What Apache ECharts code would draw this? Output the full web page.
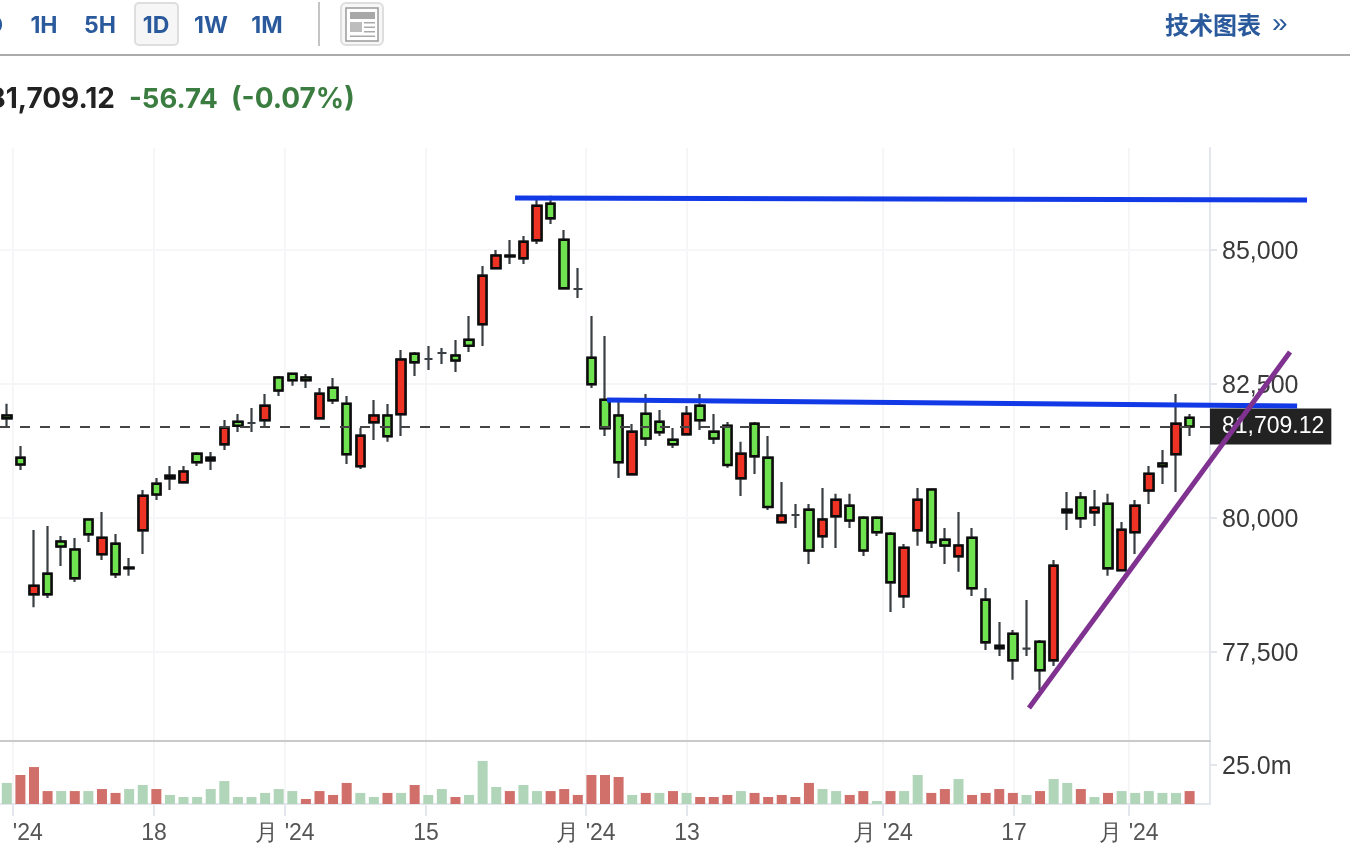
<!DOCTYPE html>
<html>
<head>
<meta charset="utf-8">
<style>html,body{margin:0;padding:0;background:#fff}#c{width:1350px;height:850px}</style>
<script src="https://cdn.jsdelivr.net/npm/echarts@6/dist/echarts.min.js"></script>
</head>
<body>
<div id="c"></div>
<script>
const opens = [81910,81125,78575,78960,79560,79410,79970,79325,79520,79062,79770,80640,80740,80665,81200,81125,81375,81795,81772,81825,
82620,82690,82620,81860,82430,82130,80965,81785,81910,81935,83065,82966,83078,83030,83325,83615,84660,84882,84845,85180,
85865,85190,84272,82990,82205,81910,80815,81945,81795,81460,81560,82095,81610,81720,80740,81760,81125,79920,80056,80155,
79660,80030,80230,80005,80005,79705,78540,79770,80530,79595,79285,79630,78475,77615,77840,77562,77690,77345,80155,80380,
80105,80265,79025,79735,80515,81015,81190,81870];
const closes = [81860,81000,78735,78575,79470,78875,79695,79630,78950,79073,80415,80440,80790,80865,81040,81075,81685,81720,81772,82095,
82380,82570,82570,82320,82195,81190,81535,81910,81525,82955,82905,82966,83078,82940,83215,84520,84895,84894,85155,85825,
85590,84285,84272,82495,81675,81040,81610,81485,81600,81375,81945,81825,81485,80990,81200,81150,80205,80045,80056,79395,
79970,80340,79955,79395,79735,78800,79445,80340,79545,79485,79485,78690,77680,77570,77345,77562,77160,79110,80105,79995,
80190,79060,79780,80230,80825,80965,81760,81709.12];
const lows = [81700,80895,78335,78505,79105,78805,79550,79215,78880,78920,79330,80335,80520,80645,80970,80895,81270,81605,81605,81700,
82275,82465,82425,81840,82125,81005,80915,81455,81420,81530,82650,82760,82875,82725,83095,83210,84640,84740,84740,85110,
85485,84265,84105,82425,81530,80745,80795,81345,81530,81305,81545,81640,81380,80935,80410,80820,80150,79900,79815,79140,
79440,79440,79815,79290,79665,78245,78320,79480,79440,79140,78995,78545,77535,77425,76980,77425,76790,77240,79775,79815,
79850,78920,79005,79330,80260,80635,80485,81530];
const highs = [82130,81345,79775,79850,79665,79625,79990,80110,79700,79255,80520,80745,80970,80970,81230,81230,81830,81940,82050,82315,
82650,82710,82685,82425,82610,82275,81680,82200,82125,83135,83095,83210,83170,83320,83770,84700,85000,85185,85260,85935,
86010,85375,84665,83770,83395,82200,81755,82315,82015,81680,82090,82315,81940,81790,81420,81790,81530,80670,80260,80260,
80560,80450,80450,80030,80030,79740,79515,80560,80550,79815,80110,79815,78695,78060,77910,78470,77725,79215,80485,80485,
80520,80450,79925,80335,80970,81270,82315,81940];
// volume in millions, and whether the volume bar is drawn red (1) or green (0)
const volumes = [13.5,18.6,23.7,8.3,8.3,8.3,8.3,9.6,7.1,9.6,12.2,9.6,5.8,4.5,4.5,9.6,14.7,4.5,4.5,7.1,
9.6,8.3,3.2,8.3,5.8,13.5,7.1,4.5,7.1,7.1,12.2,5.8,9.6,4.5,5.8,27.6,10.9,8.3,12.2,8.3,
8.3,9.6,5.8,18.6,18.6,17.3,5.8,7.1,7.1,8.3,7.1,4.5,4.5,5.8,8.3,7.1,4.5,5.8,4.5,13.5,
9.6,8.3,5.8,8.3,1.9,8.3,8.3,18.6,7.1,9.6,16,5.8,7.1,9.6,7.1,5.8,8.3,16,13.5,9.6,
4.5,7.1,8.3,7.1,8.3,7.1,7.1,8.3];
const volumeRed = [0,1,1,1,0,1,0,1,1,0,0,1,0,0,0,0,0,0,0,0,
0,0,1,1,1,1,0,0,1,0,1,0,0,1,0,0,0,1,0,0,
1,1,1,1,1,1,0,1,0,1,0,1,1,1,0,1,1,1,1,1,
0,0,1,1,0,1,0,0,1,1,0,1,1,1,1,0,1,0,0,1,
0,1,0,0,0,0,0,1];
const categories = opens.map((_, i) => String(i)).concat(['']);
const xTickPositions = [0.46,10.83,20.46,30.83,42.6,50.03,64.45,74.08,82.54];
const xTickLabels = ["月 '24","18","月 '24","15","月 '24","13","月 '24","17","月 '24"];
const priceTicks = [77500,80000,82500,85000];
const volumeTicks = [25];
const lastPrice = 81709.12;
const trendTop = [[37.38,85970],[95.63,85933]];
const trendMid = [[44.15,82202],[94.9,82090]];
const trendRise = [[75.18,76455],[94.38,83097]];

const RED='#ee3224', GREEN='#6fe24f';
const FONT='"Liberation Sans", Arial, sans-serif';
const UI='Inter, "Liberation Sans", sans-serif';
const HEAD='#2a5a9c', PGREEN='#3b7d40';
const PRICE_MIN=75839, PRICE_MAX=86903;
const chart = echarts.init(document.getElementById('c'), null, {renderer:'canvas'});
const candleData = opens.map((o,i)=>[o,closes[i],lows[i],highs[i]]);
const bodyData = opens.map((o,i)=> o===closes[i] ? '-' : [o,closes[i],Math.min(o,closes[i]),Math.max(o,closes[i])]);
const candleStyle = (c,w) => ({color:RED,color0:GREEN,borderColor:c,borderColor0:c,borderColorDoji:c,borderWidth:w});

function txt(text,x,y,size,color,weight,align,family){
  return {type:'text',silent:true,x,y,style:{text,font:(weight||'normal')+' '+size+'px '+(family||UI),fill:color,textAlign:align||'left',textVerticalAlign:'middle'}};
}
function rect(x,y,w,h,fill,stroke,lw,r){
  return {type:'rect',silent:true,shape:{x,y,width:w,height:h,r:r||0},style:{fill:fill||'transparent',stroke:stroke||null,lineWidth:lw||0}};
}
const graphics = [
  {type:'line',silent:true,shape:{x1:0,y1:55,x2:1350,y2:55},style:{stroke:'#ababab',lineWidth:2}},
  rect(135,3,43,42,'#f6f6f6','#dedede',2,4),
  txt('D',3,26,23,HEAD,'bold','right'),
  txt('1H',44,26,23,HEAD,'bold','center'),
  txt('5H',100,26,23,HEAD,'bold','center'),
  txt('1D',156,26,23,HEAD,'bold','center'),
  txt('1W',211,26,23,HEAD,'bold','center'),
  txt('1M',267,26,23,HEAD,'bold','center'),
  {type:'line',silent:true,shape:{x1:319,y1:2,x2:319,y2:46},style:{stroke:'#c4c4c4',lineWidth:2}},
  rect(341,3,42,42,'#f7f7f7','#dedede',2,5),
  rect(346,8,32,33,'#fff','#9a9a9a',1.5),
  rect(350,12,25,7,'#a8a8a8'),
  rect(350,22,12,10,'#bdbdbd'),
  rect(364,22,11,1.5,'#a8a8a8'),
  rect(364,26.5,11,1.5,'#a8a8a8'),
  rect(364,31,11,1.5,'#a8a8a8'),
  rect(350,35.5,25,1.5,'#a8a8a8'),
  txt('技术图表',1165,25,24,HEAD,'bold','left','"Noto Sans CJK SC"'),
  txt('»',1272,24,28,HEAD,'normal','left',FONT),
  txt('81,709.12',115,100,28,'#222','bold','right'),
  txt('-56.74',129,100,27.5,PGREEN,'bold','left'),
  txt('(-0.07%)',231,100,28,PGREEN,'bold','left'),
  Object.assign(rect(0,818,9,30,'#fff'),{z:100}),
];
const trend = (data,color,name) => ({name,type:'line',xAxisIndex:4,yAxisIndex:4,data,showSymbol:false,symbol:'none',z:20,silent:true,lineStyle:{color,width:5,cap:'butt'}});
const hiddenY = (gridIndex,min,max) => ({type:'value',gridIndex,min,max,show:false,splitLine:{show:false}});
const GRIDLINE={color:'#f6f6f8',width:2};
const AXIS={color:'#e3e6ec',width:2};
const gridBox = (top,height,width) => ({left:0,width:width||1210,top,height,outerBoundsMode:'none'});
const richY = {p:{fontSize:25,color:'#3a3a3a',padding:[4,0,0,0]}};

chart.setOption({
  animation:false,
  backgroundColor:'#fff',
  textStyle:{fontFamily:FONT},
  graphic:graphics,
  grid:[gridBox(148,593),gridBox(741,63),gridBox(148,593),gridBox(741,63),gridBox(148,593,1350)],
  xAxis:[
    {type:'category',gridIndex:0,data:categories,position:'bottom',boundaryGap:true,
     axisLine:{show:true,onZero:false,lineStyle:{color:'#c9c9c9',width:2}},axisTick:{show:false},axisLabel:{show:false},splitLine:{show:false}},
    {type:'category',gridIndex:1,data:categories,position:'bottom',boundaryGap:true,show:false},
    {type:'value',gridIndex:2,min:-0.5,max:88.5,position:'bottom',
     axisLine:{show:false},axisLabel:{show:false},
     axisTick:{show:false,customValues:xTickPositions},
     splitLine:{show:true,lineStyle:GRIDLINE}},
    {type:'value',gridIndex:3,min:-0.5,max:88.5,position:'bottom',
     axisLine:{show:true,onZero:false,lineStyle:AXIS},
     axisTick:{show:true,length:12,customValues:xTickPositions,lineStyle:AXIS},
     axisLabel:{show:true,customValues:xTickPositions,color:'#555',fontSize:23,margin:18,
       formatter:v=>xTickLabels[xTickPositions.indexOf(v)]},
     splitLine:{show:true,lineStyle:GRIDLINE}},
    {type:'value',gridIndex:4,min:-0.5,max:98.79,show:false,splitLine:{show:false}},
  ],
  yAxis:[
    {type:'value',gridIndex:0,position:'right',min:PRICE_MIN,max:PRICE_MAX,scale:true,
     axisLine:{show:true,lineStyle:AXIS},
     axisTick:{show:true,length:7,customValues:priceTicks,lineStyle:AXIS},
     axisLabel:{show:true,customValues:priceTicks,margin:12,rich:richY,
       formatter:v=>'{p|'+v.toLocaleString('en-US')+'}'},
     splitLine:{show:true,lineStyle:GRIDLINE}},
    {type:'value',gridIndex:1,position:'right',min:0,max:40.4,
     axisLine:{show:true,lineStyle:AXIS},
     axisTick:{show:true,length:7,customValues:volumeTicks,lineStyle:AXIS},
     axisLabel:{show:true,customValues:volumeTicks,margin:12,rich:richY,
       formatter:v=>'{p|'+v.toFixed(1)+'m}'},
     splitLine:{show:false}},
    hiddenY(2,PRICE_MIN,PRICE_MAX),
    hiddenY(3,0,40.4),
    hiddenY(4,PRICE_MIN,PRICE_MAX),
  ],
  series:[
    {name:'last',type:'line',xAxisIndex:0,yAxisIndex:0,data:[],z:1,silent:true,
     markLine:{silent:true,symbol:'none',animation:false,
       lineStyle:{color:'#444',width:1.8,type:[10,10]},
       label:{show:true,position:'end',distance:0,formatter:()=>lastPrice.toLocaleString('en-US',{minimumFractionDigits:2}),
         color:'#fff',backgroundColor:'#222',fontSize:23,padding:[10,7,3,12]},
       data:[{yAxis:lastPrice}]}},
    {name:'wicks',type:'candlestick',xAxisIndex:0,yAxisIndex:0,data:candleData,barWidth:9,z:3,silent:true,
     itemStyle:candleStyle('#3a3f44',2.2)},
    {name:'bodies',type:'candlestick',xAxisIndex:0,yAxisIndex:0,data:bodyData,barWidth:9,z:4,silent:true,
     itemStyle:candleStyle('#0c0c0c',2.5)},
    {name:'volume',type:'bar',xAxisIndex:1,yAxisIndex:1,barWidth:10,silent:true,
     data:volumes.map((v,i)=>({value:v,itemStyle:{color:volumeRed[i]?'#d1706b':'#b1d5b9'}}))},
    trend(trendTop,'#1139e6','top'),
    trend(trendMid,'#1139e6','mid'),
    trend(trendRise,'#7f3290','rise'),
  ]
});
</script>
</body>
</html>
